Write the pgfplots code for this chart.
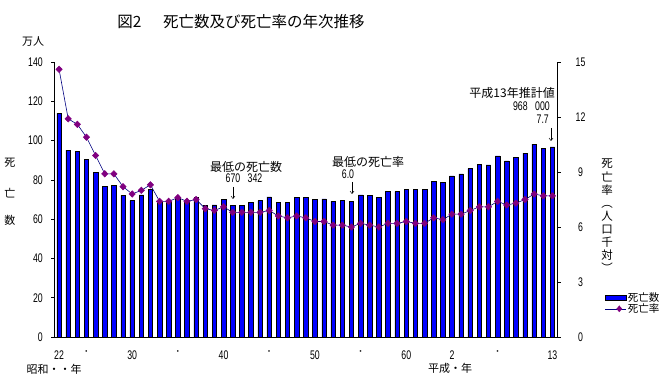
\documentclass[border=0pt]{standalone}
\usepackage{pgfplots}
\pgfplotsset{compat=1.18}
\usepackage{pgfplotstable}
\usepackage{fontspec}
\setmainfont{Noto Sans CJK JP}
\newfontfamily\jp{Noto Sans CJK JP}
\newfontfamily\numfont[FakeStretch=0.7]{Liberation Sans}
\usetikzlibrary{shapes.geometric,arrows.meta}
\definecolor{barblue}{RGB}{0,0,255}
\definecolor{navyline}{RGB}{0,0,128}
\definecolor{purp}{RGB}{128,0,128}

\pgfplotstableread{
x deaths rate
0 113.8 14.6
1 95.1 11.9
2 94.5 11.6
3 90.5 10.9
4 83.9 9.9
5 76.5 8.9
6 77.3 8.9
7 72.1 8.2
8 69.4 7.8
9 72.4 8.0
10 75.3 8.3
11 68.4 7.4
12 69.0 7.4
13 70.7 7.6
14 69.6 7.4
15 71.0 7.5
16 67.1 7.0
17 67.3 6.9
18 70.0 7.1
19 67.0 6.8
20 67.1 6.8
21 68.6 6.8
22 69.4 6.8
23 71.3 6.9
24 68.4 6.6
25 68.4 6.5
26 70.9 6.6
27 71.1 6.5
28 70.2 6.3
29 70.3 6.3
30 69.0 6.1
31 69.5 6.1
32 69.0 6.0
33 72.3 6.2
34 72.0 6.1
35 71.2 6.0
36 74.0 6.2
37 74.0 6.2
38 75.2 6.3
39 75.1 6.2
40 75.1 6.2
41 79.3 6.5
42 78.9 6.4
43 82.0 6.7
44 83.0 6.7
45 85.7 6.9
46 87.8 7.1
47 87.6 7.1
48 92.2 7.4
49 89.6 7.2
50 91.3 7.3
51 93.6 7.5
52 98.2 7.8
53 96.2 7.7
54 96.8 7.7
}\data

\begin{document}
\begin{tikzpicture}
\useasboundingbox (0pt,0pt) rectangle (669pt,390pt);

\begin{axis}[
  at={(54.5pt,53pt)}, anchor=south west,
  scale only axis, width=502.5pt, height=275pt,
  xmin=-0.5, xmax=54.5, ymin=0, ymax=140,
  axis x line*=bottom, axis y line*=left,
  axis line style={black, line width=0.7pt},
  ytick={0,20,...,140},
  xtick={0,3,8,13,18,23,28,33,38,43,48,54},
  xticklabels={22,{\jp\fontsize{8}{9}\selectfont ・},30,{\jp\fontsize{8}{9}\selectfont ・},40,{\jp\fontsize{8}{9}\selectfont ・},50,{\jp\fontsize{8}{9}\selectfont ・},60,2,{\jp\fontsize{8}{9}\selectfont ・},13},
  x tick style={draw=none},
  major tick length=3.5pt,
  tick align=outside,
  y tick style={black, line width=0.7pt},
  /pgf/number format/assume math mode=true,
  ticklabel style={font=\numfont\fontsize{12.5}{14}\selectfont, inner sep=0pt},
  yticklabel style={anchor=east, xshift=-8pt},
  xticklabel style={anchor=north, yshift=-10pt},
  ybar, bar width=4.5pt,
]
\addplot[draw=black, line width=0.5pt, fill=barblue] table[x=x, y=deaths] {\data};
\end{axis}

\begin{axis}[
  at={(54.5pt,53pt)}, anchor=south west,
  scale only axis, width=502.5pt, height=275pt,
  xmin=-0.5, xmax=54.5, ymin=0, ymax=15,
  axis y line*=right, axis x line=none,
  axis line style={black, line width=0.7pt},
  ytick={0,3,...,15},
  major tick length=3.5pt,
  tick align=outside,
  y tick style={black, line width=0.7pt},
  /pgf/number format/assume math mode=true,
  ticklabel style={font=\numfont\fontsize{12.5}{14}\selectfont, inner sep=0pt},
  yticklabel style={anchor=center, xshift=20pt},
  legend style={at={(1.0955,0.165)}, anchor=north west, draw=none, fill=none,
    font=\jp\fontsize{10.5}{12}\selectfont, row sep=-1.5pt, inner sep=0pt,
    nodes={inner sep=1pt}},
  legend cell align=left,
]
\addlegendimage{legend image code/.code={\draw[fill=barblue, draw=black, line width=0.5pt] (0pt,-2.5pt) rectangle (21pt,2.5pt);}}
\addlegendentry{死亡数}
\addplot[color=navyline, line width=0.6pt, mark=diamond*, mark size=3.2pt,
  mark options={fill=purp, draw=purp, xscale=1.3},
  legend image code/.code={\draw[navyline, line width=0.6pt] (0pt,0pt) -- (21pt,0pt);
    \node[diamond, fill=purp, inner sep=0pt, minimum width=6pt, minimum height=7pt] at (10.5pt,0pt) {};}
  ] table[x=x, y=rate] {\data};
\addlegendentry{死亡率}
\end{axis}

% title and labels
\node[font=\jp\fontsize{15.5}{17}\selectfont] at (241pt,368.5pt) {図2\hspace{1.4em}死亡数及び死亡率の年次推移};
\node[font=\jp\fontsize{11}{13}\selectfont] at (33pt,348pt) {万人};
\node[font=\jp\fontsize{11}{13}\selectfont] at (10pt,227pt) {死};
\node[font=\jp\fontsize{11}{13}\selectfont] at (10pt,197pt) {亡};
\node[font=\jp\fontsize{11}{13}\selectfont] at (10pt,170pt) {数};
\node[align=center, font=\jp\fontsize{11.5}{13.1}\selectfont, inner sep=0pt] at (607pt,174pt) {死\\亡\\率\\︵\\人\\口\\千\\対\\︶};
\node[font=\jp\fontsize{11}{13}\selectfont] at (54pt,21pt) {昭和・・年};
\node[font=\jp\fontsize{11}{13}\selectfont] at (450pt,22pt) {平成・年};

% annotations
\node[font=\jp\fontsize{12}{14}\selectfont] at (246pt,223pt) {最低の死亡数};
\node[font=\numfont\fontsize{12.5}{14}\selectfont] at (244pt,212pt) {670\hspace{0.6em}342};
\draw[line width=0.5pt, -{Straight Barb[length=2.5pt,width=4pt]}] (233pt,203pt) -- (233pt,191pt);

\node[font=\jp\fontsize{12}{14}\selectfont] at (368pt,228pt) {最低の死亡率};
\node[font=\numfont\fontsize{12.5}{14}\selectfont] at (348pt,216pt) {6.0};
\draw[line width=0.5pt, -{Straight Barb[length=2.5pt,width=4pt]}] (352pt,208pt) -- (352pt,196pt);

\node[font=\jp\fontsize{12}{14}\selectfont, anchor=east, inner sep=0pt] at (555pt,297pt) {平成13年推計値};
\node[font=\numfont\fontsize{12.5}{14}\selectfont, anchor=east, inner sep=0pt] at (550pt,284pt) {968\hspace{0.6em}000};
\node[font=\numfont\fontsize{12.5}{14}\selectfont, anchor=east, inner sep=0pt] at (549pt,271pt) {7.7};
\draw[line width=0.5pt, -{Straight Barb[length=2.5pt,width=4pt]}] (551pt,262pt) -- (551pt,249pt);
\end{tikzpicture}
\end{document}
